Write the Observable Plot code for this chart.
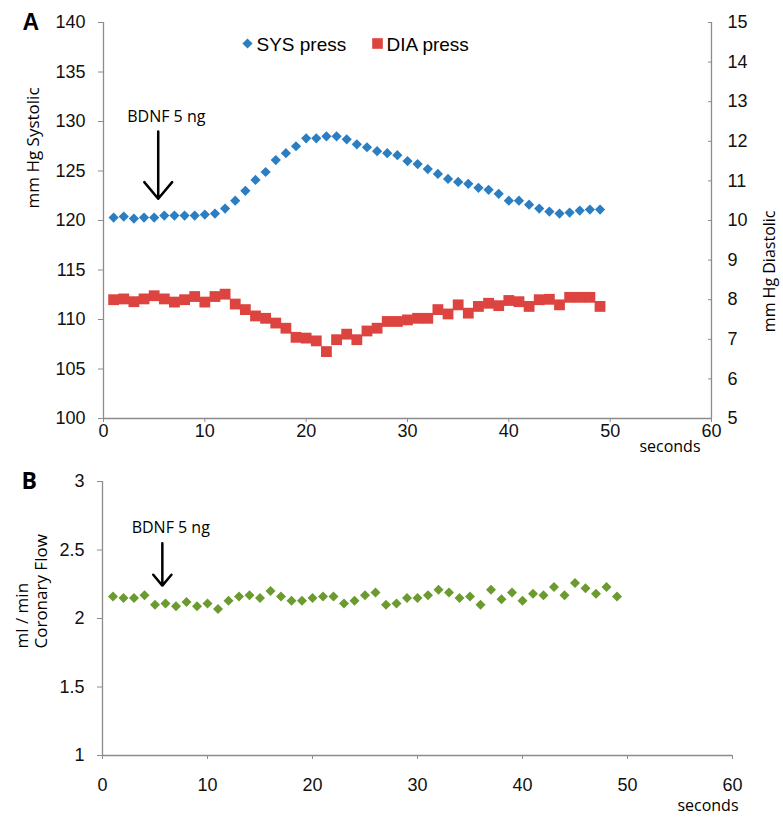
<!DOCTYPE html>
<html>
<head>
<meta charset="utf-8">
<script src="https://cdn.jsdelivr.net/npm/d3@7"></script>
<script src="https://cdn.jsdelivr.net/npm/@observablehq/plot@0.6"></script>
<style>
  body { margin: 0; background: #fff; }
  svg { display: block; }
</style>
</head>
<body>
<div id="chart"></div>
<script>
// ---- data ----
const seconds = [1,2,3,4,5,6,7,8,9,10,11,12,13,14,15,16,17,18,19,20,21,22,23,24,25,26,27,28,29,30,31,32,33,34,35,36,37,38,39,40,41,42,43,44,45,46,47,48,49];
const sysPress = [120.3,120.4,120.2,120.3,120.3,120.5,120.5,120.5,120.5,120.6,
                  120.7,121.2,122.0,123.0,124.1,124.9,126.1,126.8,127.5,128.3,
                  128.3,128.5,128.5,128.2,127.7,127.4,127.0,126.8,126.6,126.0,
                  125.7,125.2,124.7,124.2,123.9,123.7,123.3,123.1,122.7,122.0,
                  122.0,121.6,121.2,120.9,120.7,120.8,121.0,121.1,121.1];
const diaPress = [8.00,8.02,7.95,8.02,8.10,8.02,7.94,8.00,8.08,7.94,
                  8.08,8.14,7.89,7.75,7.59,7.53,7.41,7.28,7.05,7.03,
                  6.96,6.69,6.99,7.13,6.99,7.21,7.28,7.45,7.45,7.49,
                  7.53,7.53,7.75,7.64,7.87,7.66,7.83,7.91,7.85,7.98,
                  7.95,7.83,8.00,8.01,7.87,8.06,8.06,8.06,7.83];
const coronaryFlow = [2.16,2.15,2.15,2.17,2.10,2.11,2.09,2.12,2.09,2.11,
                      2.07,2.13,2.16,2.17,2.15,2.20,2.16,2.13,2.13,2.15,
                      2.16,2.16,2.11,2.13,2.17,2.19,2.10,2.11,2.15,2.15,
                      2.17,2.21,2.19,2.15,2.16,2.10,2.21,2.14,2.19,2.13,
                      2.18,2.17,2.23,2.17,2.26,2.22,2.18,2.23,2.16];
const seriesNames = ["SYS press", "DIA press"];
const sysTicks = [100,105,110,115,120,125,130,135,140];
const diaTicks = [5,6,7,8,9,10,11,12,13,14,15];
const timeTicksA = [0,10,20,30,40,50,60];
const timeTicksB = [0,10,20,30,40,50,60];
const flowTicks = [1,1.5,2,2.5,3];
const annotationA = [{label: "BDNF 5 ng", tx: 6.2, ty: 130.5, ax: 5.4, y1: 129, y2: 122.2}];
const annotationB = [{label: "BDNF 5 ng", tx: 6.5, ty: 2.66, ax: 5.7, y1: 2.55, y2: 2.24}];

// ---- styles ----
const AXIS = "#8c8c8c";
const BLUE = "#2b7ec2";
const RED = "#dd4440";
const GREEN = "#6b9a2f";
const TICKFONT = "'Liberation Sans', Arial, sans-serif";
const TITLEFONT = "'Open Sans', 'Noto Sans', sans-serif";

// diastolic -> systolic scale mapping (5..15 over 100..140)
const toSys = d => 100 + (d - 5) * 4;
const fromSys = s => Math.round((s - 100) / 4 + 5);

const sysRows = seconds.map((t, i) => ({t, v: sysPress[i]}));
const diaRows = seconds.map((t, i) => ({t, v: toSys(diaPress[i])}));
const flowRows = seconds.map((t, i) => ({t, v: coronaryFlow[i]}));

const chartA = Plot.plot({
  width: 783, height: 456,
  marginLeft: 103, marginRight: 72, marginTop: 22, marginBottom: 38,
  x: {domain: [0, 60]},
  y: {domain: [100, 140]},
  style: {fontFamily: TICKFONT, background: "#fff", color: "#111"},
  marks: [
    Plot.ruleX([0], {stroke: AXIS, strokeWidth: 1.3}),
    Plot.ruleX([60], {stroke: AXIS, strokeWidth: 1.3}),
    Plot.ruleY([100], {stroke: AXIS, strokeWidth: 1.3}),
    Plot.axisY(sysTicks, {anchor: "left", tickSize: 5, tickPadding: 13, stroke: AXIS, fill: "#111", fontSize: 18, label: null}),
    Plot.axisY(diaTicks.map(toSys), {anchor: "right", tickSize: -4, tickPadding: 20, stroke: AXIS, fill: "#111", fontSize: 18, tickFormat: fromSys, label: null}),
    Plot.axisX(timeTicksA, {tickSize: 4, tickPadding: 2, stroke: AXIS, fill: "#111", fontSize: 18, label: null}),
    Plot.dot(diaRows, {x: "t", y: "v", symbol: "square", r: 6.1, fill: RED, stroke: "none"}),
    Plot.dot(sysRows, {x: "t", y: "v", symbol: "diamond2", r: 4.6, fill: BLUE, stroke: "none"}),
    Plot.arrow(annotationA, {x: "ax", y1: "y1", y2: "y2", stroke: "#000", strokeWidth: 2.5, headLength: 13, headAngle: 80}),
    Plot.text(annotationA, {x: "tx", y: "ty", text: "label", fontFamily: TITLEFONT, fontSize: 16, fill: "#000"}),
    // legend
    Plot.dot([seriesNames[0]], {frameAnchor: "top-left", dx: 144, dy: 21, symbol: "diamond2", r: 4.6, fill: BLUE}),
    Plot.text([seriesNames[0]], {frameAnchor: "top-left", dx: 153, dy: 22, textAnchor: "start", lineAnchor: "middle", fontSize: 19, fill: "#000"}),
    Plot.dot([seriesNames[1]], {frameAnchor: "top-left", dx: 274, dy: 21, symbol: "square", r: 6, fill: RED}),
    Plot.text([seriesNames[1]], {frameAnchor: "top-left", dx: 283, dy: 22, textAnchor: "start", lineAnchor: "middle", fontSize: 19, fill: "#000"}),
    // axis titles
    Plot.text(["mm Hg Systolic"], {frameAnchor: "left", dx: -70, dy: -12, rotate: -90, fontFamily: TITLEFONT, fontSize: 17, fill: "#000"}),
    Plot.text(["mm Hg Diastolic"], {frameAnchor: "right", dx: 58, dy: -10, rotate: -90, fontFamily: TITLEFONT, fontSize: 16, fill: "#000"}),
    Plot.text(["seconds"], {frameAnchor: "bottom-right", dx: -11, dy: 28, textAnchor: "end", lineAnchor: "middle", fontFamily: TITLEFONT, fontSize: 16, fill: "#000"}),
    Plot.text(["A"], {frameAnchor: "top-left", dx: -81, dy: 0, lineAnchor: "middle", fontSize: 23, fontWeight: "bold", fill: "#000"})
  ]
});

const chartB = Plot.plot({
  width: 783, height: 364,
  marginLeft: 102, marginRight: 51, marginTop: 25, marginBottom: 65,
  x: {domain: [0, 60]},
  y: {domain: [1, 3]},
  style: {fontFamily: TICKFONT, background: "#fff", color: "#111"},
  marks: [
    Plot.ruleX([0], {stroke: AXIS, strokeWidth: 1.3}),
    Plot.ruleY([1], {stroke: AXIS, strokeWidth: 1.3}),
    Plot.axisY(flowTicks, {anchor: "left", tickSize: 5, tickPadding: 13, stroke: AXIS, fill: "#111", fontSize: 18, tickFormat: d => String(d), label: null}),
    Plot.axisX(timeTicksB, {tickSize: 4, tickPadding: 19, stroke: AXIS, fill: "#111", fontSize: 18, label: null}),
    Plot.dot(flowRows, {x: "t", y: "v", symbol: "diamond2", r: 4.5, fill: GREEN, stroke: "none"}),
    Plot.arrow(annotationB, {x: "ax", y1: "y1", y2: "y2", stroke: "#000", strokeWidth: 2.5, headLength: 13, headAngle: 80}),
    Plot.text(annotationB, {x: "tx", y: "ty", text: "label", fontFamily: TITLEFONT, fontSize: 16, fill: "#000"}),
    Plot.text(["ml / min"], {frameAnchor: "left", dx: -80, dy: 30, rotate: -90, fontFamily: TITLEFONT, fontSize: 17, fill: "#000"}),
    Plot.text(["Coronary Flow"], {frameAnchor: "left", dx: -61, dy: 30, rotate: -90, fontFamily: TITLEFONT, fontSize: 17, fill: "#000"}),
    Plot.text(["seconds"], {frameAnchor: "bottom-right", dx: 6, dy: 50, textAnchor: "end", lineAnchor: "middle", fontFamily: TITLEFONT, fontSize: 16, fill: "#000"}),
    Plot.text(["B"], {frameAnchor: "top-left", dx: -81, dy: 0, lineAnchor: "middle", fontFamily: TITLEFONT, fontSize: 23, fontWeight: "bold", fill: "#000"})
  ]
});

const root = document.getElementById("chart");
root.append(chartA, chartB);
</script>
</body>
</html>
